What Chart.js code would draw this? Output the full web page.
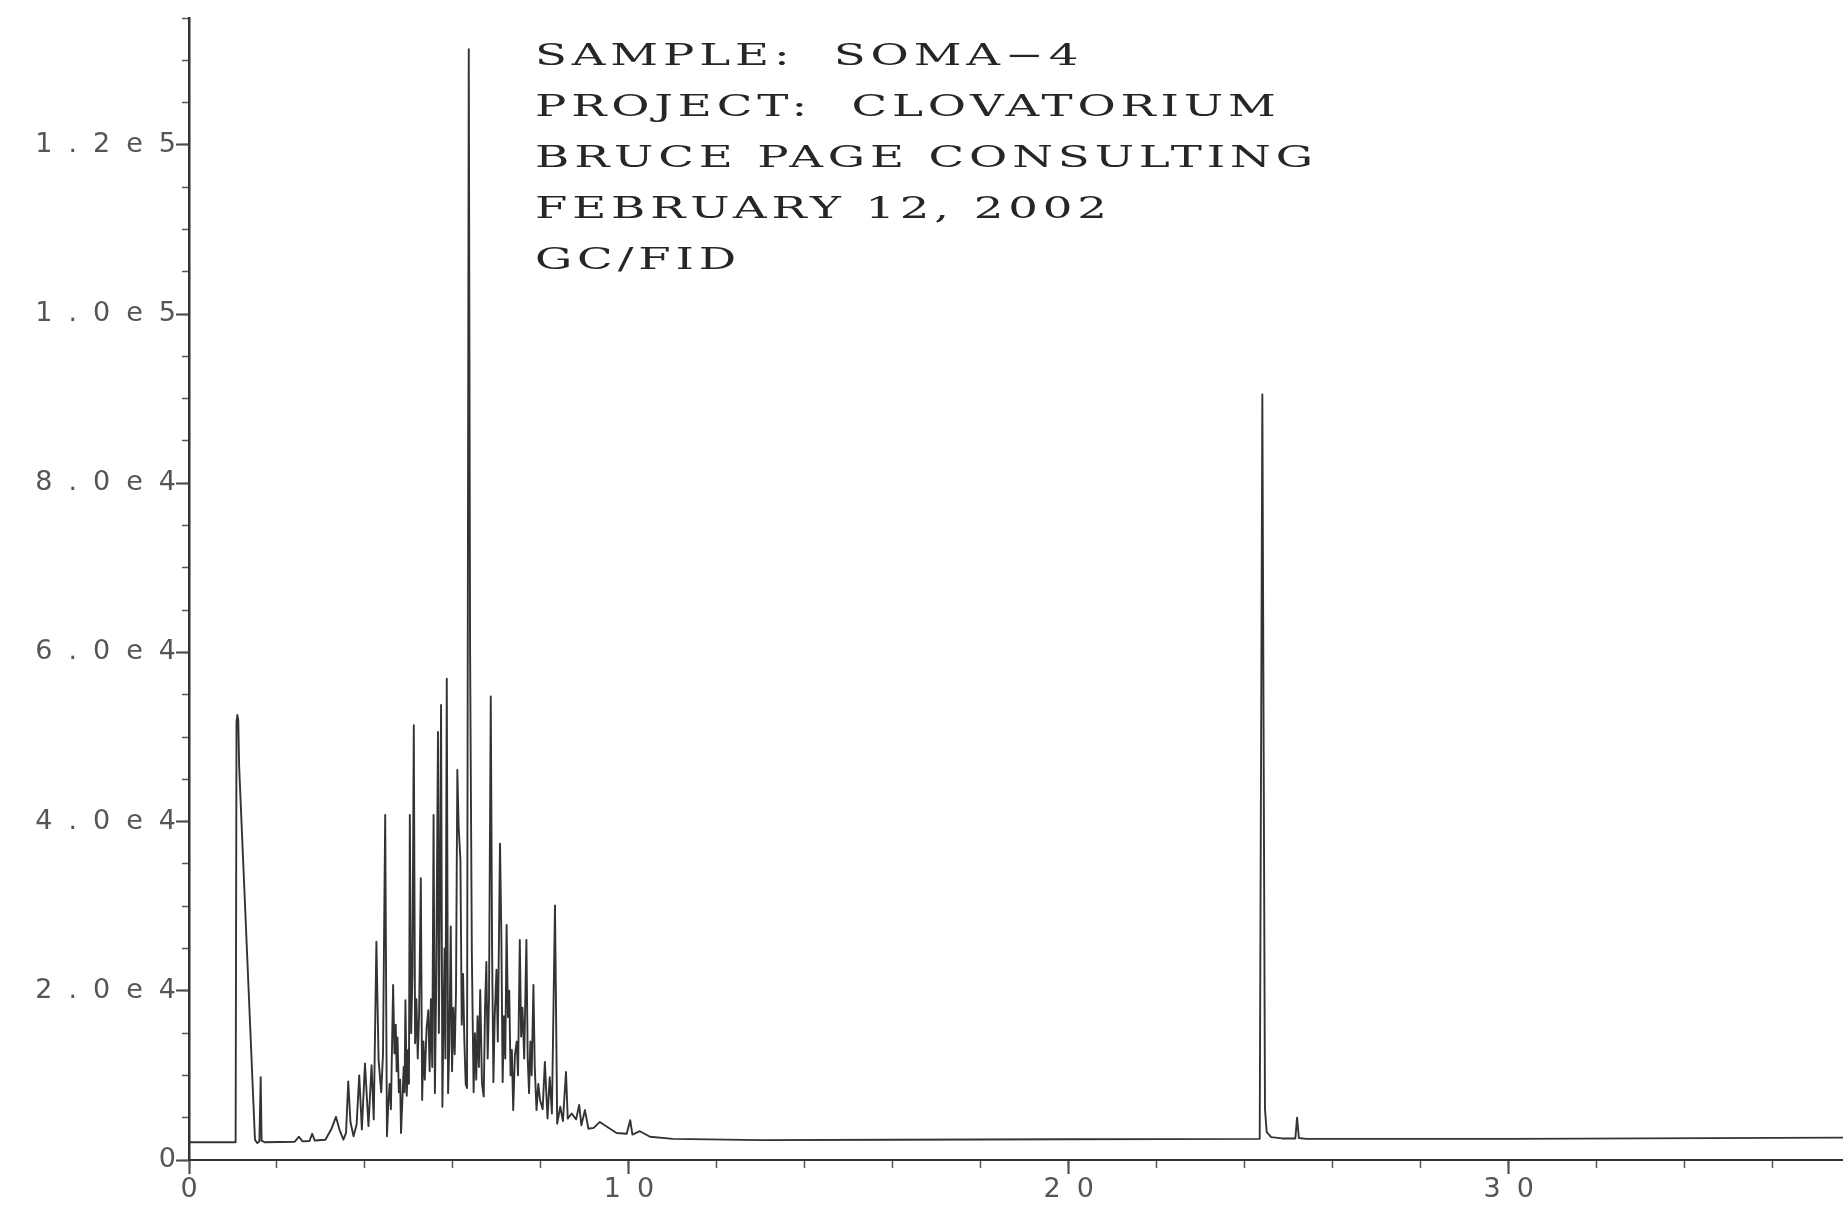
<!DOCTYPE html>
<html>
<head>
<meta charset="utf-8">
<title>SOMA-4 GC/FID</title>
<script src="https://cdn.jsdelivr.net/npm/chart.js@4.4.1/dist/chart.umd.min.js"></script>
<style>
  html, body { margin: 0; padding: 0; background: #fff; }
  #wrap { position: relative; width: 1843px; height: 1205px; }
</style>
</head>
<body>
<div id="wrap"><canvas id="chromatogram"></canvas></div>
<script>
// retention time (min) and detector response (counts)
const retentionTimes = [
  0.00, 1.06, 1.08, 1.10, 1.12, 1.14, 1.50, 1.55, 1.60, 1.63, 1.65, 1.72,
  2.40, 2.50, 2.58, 2.74, 2.80, 2.86, 3.10, 3.24, 3.34, 3.42, 3.51, 3.57,
  3.62, 3.67, 3.74, 3.81, 3.87, 3.93, 4.00, 4.08, 4.15, 4.20, 4.26, 4.31,
  4.37, 4.41, 4.46, 4.50, 4.53, 4.56, 4.59, 4.64, 4.67, 4.70, 4.72, 4.74,
  4.77, 4.80, 4.82, 4.85, 4.88, 4.90, 4.92, 4.95, 4.98, 5.00, 5.02, 5.05,
  5.08, 5.11, 5.14, 5.17, 5.20, 5.23, 5.27, 5.30, 5.33, 5.36, 5.40, 5.44,
  5.47, 5.50, 5.53, 5.56, 5.59, 5.62, 5.66, 5.68, 5.70, 5.73, 5.76, 5.79,
  5.81, 5.83, 5.86, 5.89, 5.92, 5.95, 5.98, 6.01, 6.04, 6.07, 6.10, 6.13,
  6.17, 6.20, 6.23, 6.26, 6.29, 6.32, 6.36, 6.39, 6.43, 6.47, 6.50, 6.53,
  6.56, 6.59, 6.62, 6.66, 6.70, 6.73, 6.76, 6.79, 6.82, 6.86, 6.89, 6.92,
  6.95, 6.99, 7.02, 7.07, 7.10, 7.13, 7.16, 7.19, 7.22, 7.25, 7.28, 7.31,
  7.34, 7.37, 7.41, 7.45, 7.48, 7.52, 7.55, 7.58, 7.62, 7.67, 7.70, 7.73,
  7.76, 7.79, 7.83, 7.86, 7.90, 7.94, 7.98, 8.04, 8.09, 8.15, 8.20, 8.25,
  8.32, 8.37, 8.44, 8.50, 8.57, 8.61, 8.70, 8.80, 8.87, 8.92, 9.00, 9.08,
  9.20, 9.34, 9.45, 9.57, 9.72, 9.95, 10.03, 10.08, 10.25, 10.48, 11.00, 13.00,
  16.00, 20.00, 24.34, 24.40, 24.46, 24.50, 24.60, 24.85, 25.15, 25.19, 25.23, 25.40,
  30.00, 37.60
];
const detectorSignal = [
  2100, 2100, 51800, 52600, 52000, 46500, 2400, 2000, 2200, 9800, 2300, 2100,
  2150, 2750, 2200, 2250, 3100, 2300, 2400, 3700, 5100, 3600, 2400, 3200,
  9300, 4500, 2800, 4200, 10000, 3600, 11400, 4000, 11200, 4800, 25800, 11800,
  8000, 12500, 40800, 2800, 6500, 9000, 6000, 20700, 12600, 16000, 10500, 14500,
  8000, 9500, 3200, 7000, 11000, 8000, 18900, 7600, 13000, 9000, 40800, 15000,
  22000, 51400, 13800, 19000, 12000, 17000, 33300, 7100, 14000, 9500, 15500, 17700,
  10500, 19000, 11000, 40800, 7900, 21000, 50600, 15000, 28000, 53800, 6300, 18000,
  25000, 12000, 56900, 7900, 14000, 27600, 10500, 18000, 12500, 20000, 46100, 39400,
  35500, 16000, 22000, 14000, 9000, 8500, 131300, 60000, 24400, 8000, 15000, 9500,
  17000, 11000, 20100, 9000, 7500, 18000, 23400, 12000, 19000, 54800, 25000, 9200,
  17000, 22500, 14000, 37400, 26800, 9200, 17000, 12000, 27800, 16900, 20000, 10000,
  13000, 5900, 12500, 14000, 10000, 26000, 14600, 18000, 12000, 26000, 12000, 7900,
  14000, 10000, 20700, 11000, 5900, 9000, 7100, 6000, 11600, 4900, 9800, 5500,
  30100, 4300, 6300, 4600, 10400, 4900, 5500, 4800, 6500, 4100, 5900, 3700,
  3800, 4500, 4100, 3700, 3200, 3100, 4700, 3000, 3400, 2750, 2500, 2350,
  2400, 2450, 2500, 90500, 6000, 3300, 2700, 2550, 2550, 5000, 2600, 2500,
  2500, 2650
];

const xMajorTicks = [0, 10, 20, 30];
const xTickLabels = ["0", "10", "20", "30"];
const yMajorTicks = [0, 20000, 40000, 60000, 80000, 100000, 120000];
const yTickLabels = ["0", "2.0e4", "4.0e4", "6.0e4", "8.0e4", "1.0e5", "1.2e5"];

const headerLines = [
  "SAMPLE:  SOMA\u22124",
  "PROJECT:  CLOVATORIUM",
  "BRUCE PAGE CONSULTING",
  "FEBRUARY 12, 2002",
  "GC/FID",
];

const plotterFont = { family: "'DejaVu Sans', sans-serif", size: 27 };

// wide plotter look for the axis numbers
const plotterSpacing = {
  id: "plotterSpacing",
  beforeDraw(chart) {
    chart.ctx.letterSpacing = "16px";
  },
};

// sample header printed inside the plot
const runHeader = {
  id: "runHeader",
  afterDraw(chart) {
    const ctx = chart.ctx;
    ctx.save();
    ctx.font = "29px 'DejaVu Serif', serif";
    ctx.letterSpacing = "3px";
    ctx.fillStyle = "#262626";
    ctx.textAlign = "left";
    ctx.textBaseline = "alphabetic";
    const widest = Math.max(...headerLines.map((l) => ctx.measureText(l).width));
    const stretch = 778 / (widest - 3);
    headerLines.forEach((line, i) => {
      ctx.save();
      ctx.translate(535, 65 + i * 51);
      ctx.scale(stretch, 1);
      ctx.fillText(line, 0, 0);
      ctx.restore();
    });
    ctx.restore();
  },
};

const points = retentionTimes.map((t, i) => ({ x: t, y: detectorSignal[i] }));

new Chart(document.getElementById("chromatogram"), {
  type: "line",
  data: {
    datasets: [
      {
        data: points,
        borderColor: "#333",
        borderWidth: 1.9,
        borderJoinStyle: "round",
        pointRadius: 0,
        tension: 0,
        fill: false,
      },
    ],
  },
  options: {
    responsive: true,
    maintainAspectRatio: false,
    animation: false,
    events: [],
    layout: { padding: { top: 18, right: 0, bottom: 0, left: 0 } },
    plugins: {
      legend: { display: false },
      tooltip: { enabled: false },
    },
    scales: {
      x: {
        type: "linear",
        position: "bottom",
        weight: 1,
        min: 0,
        max: 37.6,
        afterBuildTicks: (s) => {
          s.ticks = xMajorTicks.map((v) => ({ value: v }));
        },
        afterFit: (s) => {
          s.height = 45;
        },
        grid: { drawOnChartArea: false, tickLength: 14, tickWidth: 2, tickColor: "#444" },
        border: { display: true, color: "#333", width: 2 },
        ticks: {
          callback: (v, i) => xTickLabels[i],
          font: plotterFont,
          color: "#555",
          padding: 0,
          labelOffset: 8,
          maxRotation: 0,
          autoSkip: false,
        },
      },
      xMinor: {
        type: "linear",
        position: "bottom",
        weight: 0,
        min: 0,
        max: 37.6,
        afterBuildTicks: (s) => {
          s.ticks = s.ticks.filter((t) => Number.isInteger(t.value));
        },
        afterFit: (s) => {
          s.height = 0;
        },
        grid: { drawOnChartArea: false, tickLength: 8, tickWidth: 1.5, tickColor: "#555" },
        border: { display: false },
        ticks: { display: false, stepSize: 2 },
      },
      y: {
        type: "linear",
        position: "left",
        weight: 1,
        min: 0,
        max: 135000,
        afterBuildTicks: (s) => {
          s.ticks = yMajorTicks.map((v) => ({ value: v }));
        },
        afterFit: (s) => {
          s.width = 189;
        },
        grid: { drawOnChartArea: false, tickLength: 13, tickWidth: 2, tickColor: "#444" },
        border: { display: true, color: "#333", width: 2.5 },
        ticks: {
          callback: (v, i) => yTickLabels[i],
          font: plotterFont,
          color: "#555",
          padding: -16,
          autoSkip: false,
        },
      },
      yMinor: {
        type: "linear",
        position: "left",
        weight: 0,
        min: 0,
        max: 135000,
        afterFit: (s) => {
          s.width = 0;
        },
        grid: { drawOnChartArea: false, tickLength: 7, tickWidth: 1.5, tickColor: "#555" },
        border: { display: false },
        ticks: { display: false, stepSize: 5000 },
      },
    },
  },
  plugins: [plotterSpacing, runHeader],
});
</script>
</body>
</html>
